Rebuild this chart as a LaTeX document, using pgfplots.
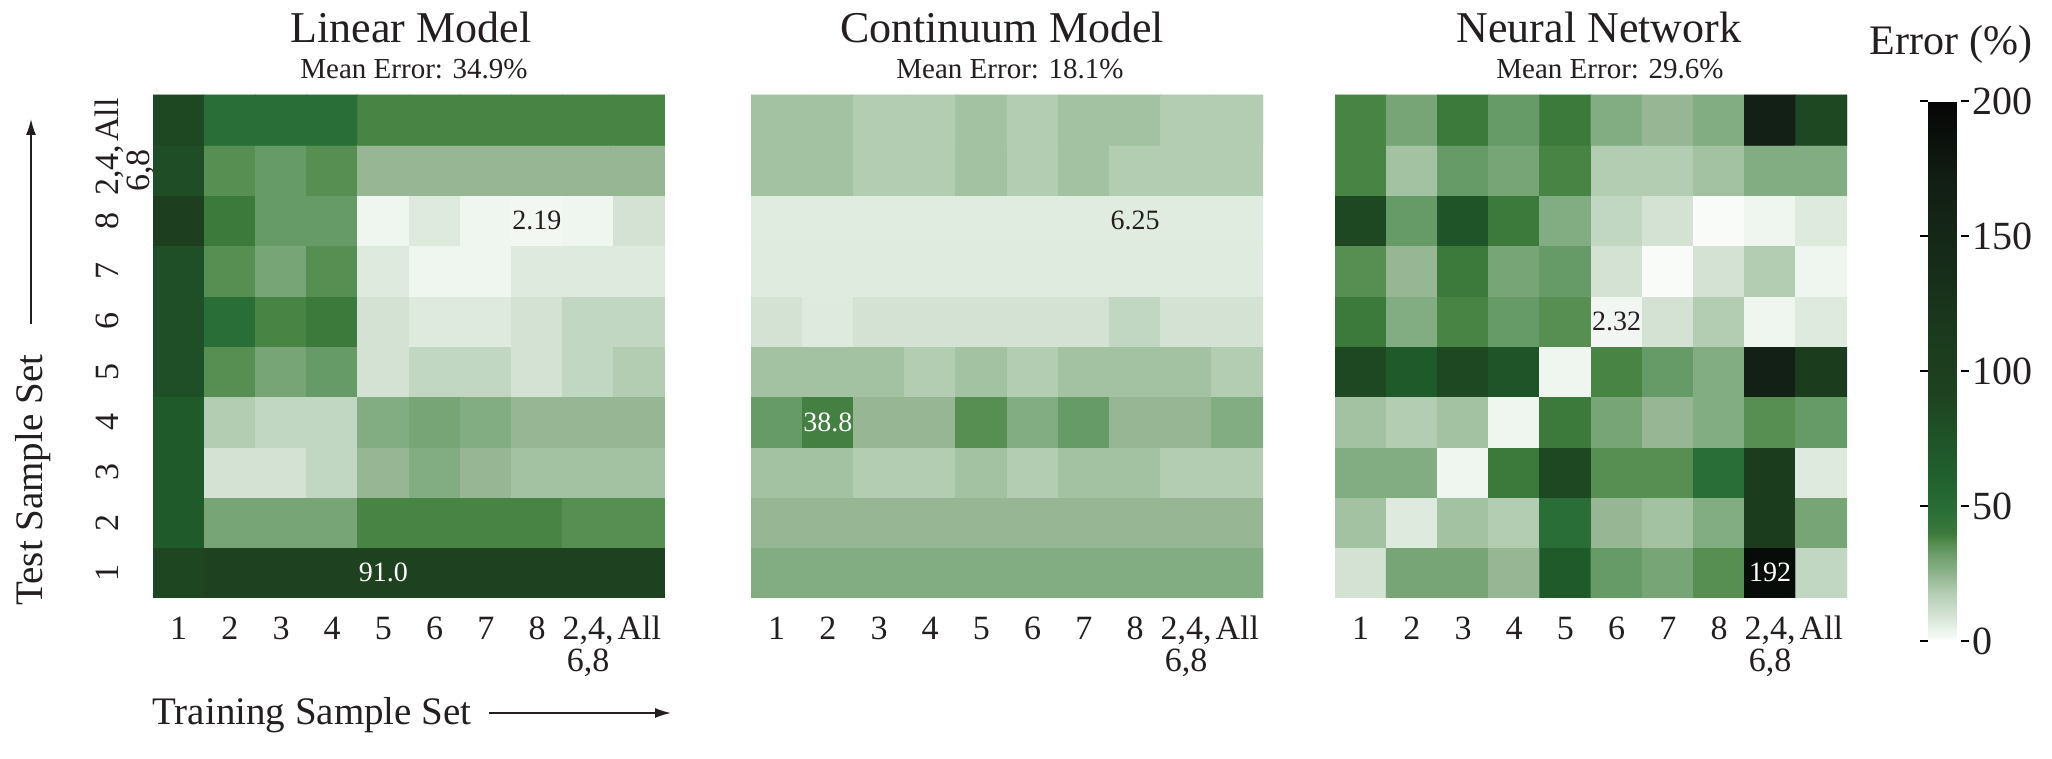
\documentclass[border=0pt]{standalone}
\usepackage{pgfplots}
\pgfplotsset{compat=1.18}
\usepackage{fontspec}
\setmainfont{Liberation Serif}
\usetikzlibrary{arrows.meta}
\definecolor{txt}{RGB}{35,31,32}
\newcommand{\fs}[2]{\fontsize{#1}{#2}\selectfont}
\newcommand{\twolines}{\begin{tabular}[t]{@{}c@{}}2,4,\\6,8\end{tabular}}
\pgfplotsset{
  colormap={errgreen}{
    rgb255(0)=(255,255,255)
    rgb255(2)=(243,247,243)
    rgb255(4)=(236,243,236)
    rgb255(7)=(222,234,222)
    rgb255(10)=(211,226,211)
    rgb255(14)=(194,215,194)
    rgb255(18)=(179,205,179)
    rgb255(21)=(163,194,161)
    rgb255(24)=(151,183,148)
    rgb255(27)=(130,173,130)
    rgb255(30)=(120,165,118)
    rgb255(33)=(102,154,102)
    rgb255(36)=(87,143,82)
    rgb255(38)=(72,132,68)
    rgb255(40)=(60,122,60)
    rgb255(48)=(42,110,55)
    rgb255(60)=(33,97,47)
    rgb255(70)=(31,88,42)
    rgb255(80)=(31,79,38)
    rgb255(91)=(30,66,31)
    rgb255(110)=(28,60,30)
    rgb255(140)=(22,44,25)
    rgb255(170)=(18,30,20)
    rgb255(200)=(5,5,5)
  },
  hm/.style={
    scale only axis, width=256pt, height=251.5pt,
    anchor=south west,
    xmin=-0.5, xmax=9.5, ymin=-0.5, ymax=9.5,
    enlargelimits=false,
    axis line style={draw=none},
    major tick length=0pt,
    tick style={draw=none},
    colormap name=errgreen,
    point meta min=0, point meta max=200,
    xtick={0,...,9},
    xticklabels={1,2,3,4,5,6,7,8,{\twolines},All},
    xticklabel style={font=\fs{17}{15.5}, text=txt, anchor=base, inner sep=0pt},
    xticklabel shift=20.75pt,
    ytick=\empty,
  },
}
\begin{document}
\begin{tikzpicture}
\useasboundingbox (0,0) rectangle (1026pt,379.5pt);

% ---------------- Linear Model ----------------
\begin{axis}[hm, at={(76.5pt,80.5pt)},
  ytick={0,...,9},
  yticklabels={1,2,3,4,5,6,7,8,{\twolines},All},
  yticklabel style={font=\fs{17}{15.5}, text=txt, rotate=90, anchor=base, inner sep=0pt},
  yticklabel shift=17.5pt]
\addplot[matrix plot*, mesh/cols=10, point meta=explicit] coordinates {
(0,0)[88] (1,0)[93] (2,0)[93] (3,0)[93] (4,0)[91.0] (5,0)[93] (6,0)[93] (7,0)[93] (8,0)[93] (9,0)[93]
(0,1)[68] (1,1)[30] (2,1)[30] (3,1)[30] (4,1)[38] (5,1)[38] (6,1)[38] (7,1)[38] (8,1)[36] (9,1)[36]
(0,2)[68] (1,2)[10] (2,2)[10] (3,2)[14] (4,2)[24] (5,2)[27] (6,2)[24] (7,2)[21] (8,2)[21] (9,2)[21]
(0,3)[68] (1,3)[18] (2,3)[14] (3,3)[14] (4,3)[27] (5,3)[30] (6,3)[27] (7,3)[24] (8,3)[24] (9,3)[24]
(0,4)[80] (1,4)[36] (2,4)[30] (3,4)[33] (4,4)[10] (5,4)[14] (6,4)[14] (7,4)[10] (8,4)[14] (9,4)[18]
(0,5)[80] (1,5)[48] (2,5)[38] (3,5)[40] (4,5)[10] (5,5)[7] (6,5)[7] (7,5)[10] (8,5)[14] (9,5)[14]
(0,6)[80] (1,6)[36] (2,6)[30] (3,6)[36] (4,6)[7] (5,6)[3] (6,6)[3] (7,6)[7] (8,6)[7] (9,6)[7]
(0,7)[100] (1,7)[40] (2,7)[33] (3,7)[33] (4,7)[3] (5,7)[7] (6,7)[3] (7,7)[2.19] (8,7)[3] (9,7)[10]
(0,8)[82] (1,8)[36] (2,8)[33] (3,8)[36] (4,8)[24] (5,8)[24] (6,8)[24] (7,8)[24] (8,8)[24] (9,8)[24]
(0,9)[86] (1,9)[48] (2,9)[48] (3,9)[48] (4,9)[38] (5,9)[38] (6,9)[38] (7,9)[38] (8,9)[38] (9,9)[38]
};
\node[font=\fs{14}{16}, text=white] at (axis cs:4,0) {91.0};
\node[font=\fs{14}{16}, text=txt] at (axis cs:7,7) {2.19};
\end{axis}

% ---------------- Continuum Model ----------------
\begin{axis}[hm, at={(375.5pt,80.5pt)}]
\addplot[matrix plot*, mesh/cols=10, point meta=explicit] coordinates {
(0,0)[27] (1,0)[27] (2,0)[27] (3,0)[27] (4,0)[27] (5,0)[27] (6,0)[27] (7,0)[27] (8,0)[27] (9,0)[27]
(0,1)[24] (1,1)[24] (2,1)[24] (3,1)[24] (4,1)[24] (5,1)[24] (6,1)[24] (7,1)[24] (8,1)[24] (9,1)[24]
(0,2)[21] (1,2)[21] (2,2)[18] (3,2)[18] (4,2)[21] (5,2)[18] (6,2)[21] (7,2)[21] (8,2)[18] (9,2)[18]
(0,3)[33] (1,3)[38.8] (2,3)[24] (3,3)[24] (4,3)[36] (5,3)[27] (6,3)[33] (7,3)[24] (8,3)[24] (9,3)[27]
(0,4)[21] (1,4)[21] (2,4)[21] (3,4)[18] (4,4)[21] (5,4)[18] (6,4)[21] (7,4)[21] (8,4)[21] (9,4)[18]
(0,5)[10] (1,5)[7] (2,5)[10] (3,5)[10] (4,5)[10] (5,5)[10] (6,5)[10] (7,5)[14] (8,5)[10] (9,5)[10]
(0,6)[6.5] (1,6)[6.5] (2,6)[6.5] (3,6)[6.5] (4,6)[6.5] (5,6)[6.5] (6,6)[6.5] (7,6)[6.5] (8,6)[6.5] (9,6)[6.5]
(0,7)[6.3] (1,7)[6.3] (2,7)[6.3] (3,7)[6.3] (4,7)[6.3] (5,7)[6.3] (6,7)[6.3] (7,7)[6.25] (8,7)[6.3] (9,7)[6.3]
(0,8)[21] (1,8)[21] (2,8)[18] (3,8)[18] (4,8)[21] (5,8)[18] (6,8)[21] (7,8)[18] (8,8)[18] (9,8)[18]
(0,9)[21] (1,9)[21] (2,9)[18] (3,9)[18] (4,9)[21] (5,9)[18] (6,9)[21] (7,9)[21] (8,9)[18] (9,9)[18]
};
\node[font=\fs{14}{16}, text=white] at (axis cs:1,3) {38.8};
\node[font=\fs{14}{16}, text=txt] at (axis cs:7,7) {6.25};
\end{axis}

% ---------------- Neural Network ----------------
\begin{axis}[hm, at={(667.5pt,80.5pt)},
  colorbar,
  colorbar style={
    at={(955.5pt,59pt)}, anchor=south west,
    scale only axis, width=16.5pt, height=270pt,
    ytick={0,50,100,150,200},
    yticklabels={0,50,100,150,200},
    yticklabel pos=right,
    yticklabel style={font=\fs{20}{24}, text=txt, anchor=west, inner sep=1.5pt},
    ytick style={draw=black, line width=1.4pt},
    major tick length=4pt,
    tick align=outside,
    axis line style={draw=none},
  }]
\addplot[matrix plot*, mesh/cols=10, point meta=explicit] coordinates {
(0,0)[10] (1,0)[30] (2,0)[30] (3,0)[24] (4,0)[68] (5,0)[33] (6,0)[30] (7,0)[36] (8,0)[192] (9,0)[14]
(0,1)[21] (1,1)[7] (2,1)[21] (3,1)[18] (4,1)[48] (5,1)[24] (6,1)[21] (7,1)[27] (8,1)[110] (9,1)[30]
(0,2)[27] (1,2)[27] (2,2)[3] (3,2)[40] (4,2)[86] (5,2)[36] (6,2)[36] (7,2)[48] (8,2)[110] (9,2)[7]
(0,3)[21] (1,3)[18] (2,3)[21] (3,3)[3] (4,3)[40] (5,3)[30] (6,3)[24] (7,3)[27] (8,3)[36] (9,3)[33]
(0,4)[86] (1,4)[68] (2,4)[86] (3,4)[75] (4,4)[3] (5,4)[38] (6,4)[33] (7,4)[27] (8,4)[165] (9,4)[110]
(0,5)[40] (1,5)[27] (2,5)[38] (3,5)[33] (4,5)[36] (5,5)[2.32] (6,5)[10] (7,5)[18] (8,5)[3] (9,5)[7]
(0,6)[36] (1,6)[24] (2,6)[40] (3,6)[30] (4,6)[33] (5,6)[10] (6,6)[1] (7,6)[10] (8,6)[18] (9,6)[3]
(0,7)[86] (1,7)[33] (2,7)[75] (3,7)[40] (4,7)[27] (5,7)[14] (6,7)[10] (7,7)[1] (8,7)[3] (9,7)[7]
(0,8)[38] (1,8)[21] (2,8)[33] (3,8)[30] (4,8)[38] (5,8)[18] (6,8)[18] (7,8)[21] (8,8)[27] (9,8)[27]
(0,9)[38] (1,9)[30] (2,9)[40] (3,9)[33] (4,9)[40] (5,9)[27] (6,9)[24] (7,9)[27] (8,9)[165] (9,9)[86]
};
\node[font=\fs{14}{16}, text=txt] at (axis cs:5,5) {2.32};
\node[font=\fs{14}{16}, text=white] at (axis cs:8,0) {192};
\end{axis}

% ---------------- titles and labels ----------------
\node[font=\fs{22}{26}, text=txt] at (205.5pt,366pt) {Linear Model};
\node[font=\fs{14.5}{17}, text=txt] at (207pt,345pt) {Mean Error: 34.9\%};
\node[font=\fs{22}{26}, text=txt] at (501pt,366pt) {Continuum Model};
\node[font=\fs{14.5}{17}, text=txt] at (505pt,345pt) {Mean Error: 18.1\%};
\node[font=\fs{22}{26}, text=txt] at (799.5pt,366pt) {Neural Network};
\node[font=\fs{14.5}{17}, text=txt] at (805pt,345pt) {Mean Error: 29.6\%};
\node[font=\fs{21}{25}, text=txt] at (975.5pt,357.5pt) {Error (\%)};

\node[font=\fs{19.5}{23}, text=txt, anchor=base west, inner sep=0pt] at (76pt,17pt) {Training Sample Set};
\draw[txt, line width=0.8pt, -{Latex[length=8pt,width=5pt]}] (244.5pt,23pt) -- (335.5pt,23pt);
\node[font=\fs{19.5}{23}, text=txt, rotate=90, anchor=base west, inner sep=0pt] at (21pt,76.5pt) {Test Sample Set};
\draw[txt, line width=0.8pt, -{Latex[length=8pt,width=5pt]}] (15.5pt,217.5pt) -- (15.5pt,320pt);
\end{tikzpicture}
\end{document}
